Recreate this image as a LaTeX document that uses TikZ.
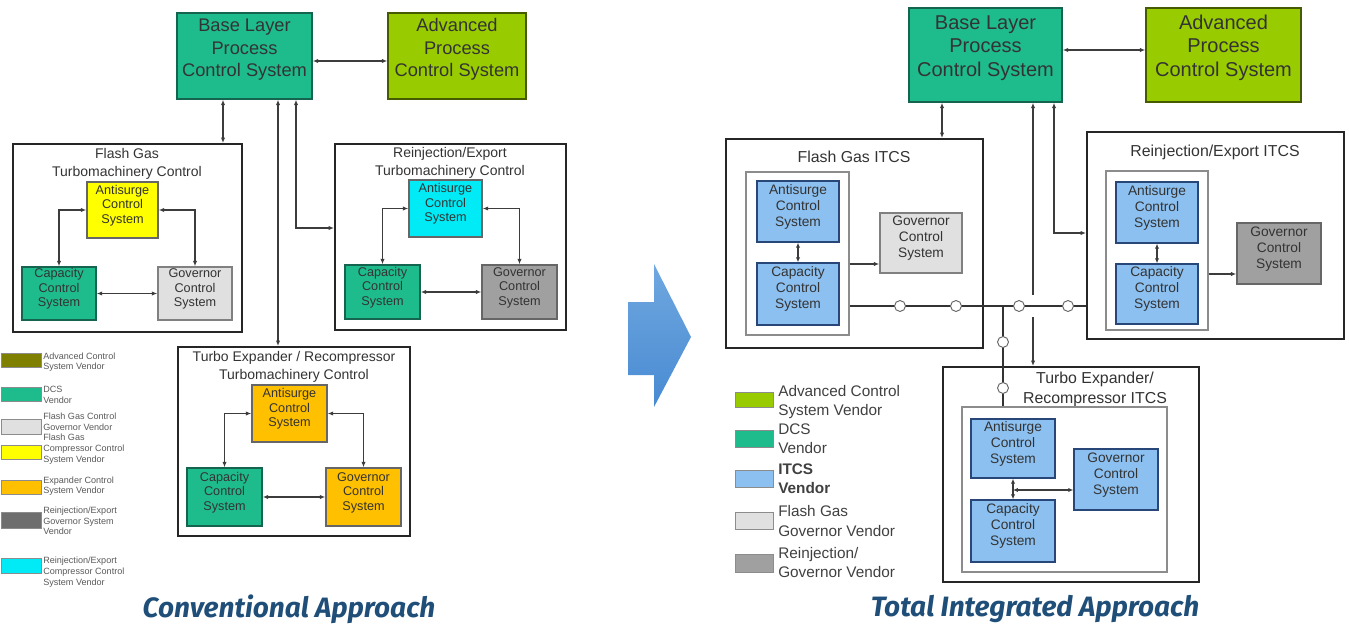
\documentclass[tikz,border=0pt]{standalone}
\usepackage{fontspec}
\setmainfont{Liberation Sans}
\newfontfamily\titlefont{Fira Sans}
\usetikzlibrary{arrows.meta,fit,calc}
\definecolor{teal1}{RGB}{30,188,140}
\definecolor{tealB}{RGB}{20,100,80}
\definecolor{lime1}{RGB}{153,204,0}
\definecolor{limeB}{RGB}{70,90,0}
\definecolor{yel1}{RGB}{255,255,0}
\definecolor{cyan1}{RGB}{0,235,245}
\definecolor{lgray}{RGB}{224,224,224}
\definecolor{dgray}{RGB}{160,160,160}
\definecolor{orng}{RGB}{255,192,0}
\definecolor{olive1}{RGB}{128,128,0}
\definecolor{blue1}{RGB}{140,192,240}
\definecolor{blueB}{RGB}{40,70,120}
\definecolor{legdg}{RGB}{110,110,110}
\definecolor{ttl}{RGB}{31,78,121}
\definecolor{lnc}{RGB}{60,60,60}
\definecolor{arrA}{RGB}{112,168,224}
\definecolor{arrB}{RGB}{72,138,210}
\tikzset{
  cb/.style={draw=#1, line width=1.1pt, inner sep=0pt, align=center, text=black!80},
  tbox/.style={cb=tealB, fill=teal1},
  gbox/.style={cb=limeB, fill=lime1},
  ybox/.style={cb=black!60, fill=yel1},
  cybox/.style={cb=black!60, fill=cyan1},
  lgbox/.style={cb=black!50, fill=lgray},
  dgbox/.style={cb=black!60, fill=dgray},
  obox/.style={cb=black!60, fill=orng},
  bbox/.style={cb=blueB, fill=blue1},
  fbig/.style={font=\fontsize{13.7}{17}\selectfont},
  fbigR/.style={font=\fontsize{15}{17.6}\selectfont},
  fsmL/.style={font=\fontsize{9.5}{11}\selectfont},
  fsmR/.style={font=\fontsize{10.3}{12}\selectfont},
  ftlL/.style={font=\fontsize{10.5}{13.5}\selectfont, align=center, text=black!80},
  ftlR/.style={font=\fontsize{11.9}{15}\selectfont, align=center, text=black!80},
  outer/.style={draw=black!85, line width=1.5pt, inner sep=0pt},
  inner/.style={draw=black!45, line width=0.9pt, inner sep=0pt},
  conn/.style={draw=lnc, line width=0.8pt},
  dbl/.style={conn, {Latex[length=4pt,width=3.2pt]}-{Latex[length=4pt,width=3.2pt]}},
  dbls/.style={conn, {Latex[length=3.6pt,width=3.2pt]}-{Latex[length=3.6pt,width=3.2pt]}},
  sgl/.style={conn, -{Latex[length=4pt,width=3.2pt]}},
  bus/.style={draw=black!80, line width=1pt},
  port/.style={circle, draw=black!60, fill=white, line width=0.7pt, minimum size=8.2pt, inner sep=0pt},
  sw/.style={draw=black!45, line width=0.6pt, inner sep=0pt},
  legL/.style={anchor=west, align=left, font=\fontsize{6.8}{8}\selectfont, text=black!65, inner sep=0pt},
  legR/.style={anchor=west, align=left, font=\fontsize{11.5}{14.3}\selectfont, text=black!75, inner sep=0pt},
  ttlf/.style={font=\titlefont\bfseries\itshape\fontsize{21}{24}\selectfont, text=ttl}
}
\begin{document}
\begin{tikzpicture}[x=0.75pt,y=-0.75pt]
\useasboundingbox (0,0) rectangle (1349,624);

% ================= LEFT: Conventional =================
\node[tbox,fbig,fit={(177,13)(312,99)}] (lbase) {Base Layer\\Process\\Control System};
\node[gbox,fbig,fit={(388,13)(526,99)}] (ladv) {Advanced\\Process\\Control System};

\node[outer,fit={(13,144)(242,332)}] (lfo) {};
\node[ftlL] (lft) at (127,164) {Flash Gas\\Turbomachinery Control};
\node[ybox,fsmL,fit={(87,182)(158,238)}] (lfa) {Antisurge\\Control\\System};
\node[tbox,fsmL,fit={(22,267)(96,320)}] (lfc) {Capacity\\Control\\System};
\node[lgbox,fsmL,fit={(158,267)(232,320)}] (lfg) {Governor\\Control\\System};

\node[outer,fit={(335,144)(566,330)}] (lro) {};
\node[ftlL] (lrt) at (450,162.5) {Reinjection/Export\\Turbomachinery Control};
\node[cybox,fsmL,fit={(409,180)(482,237)}] (lra) {Antisurge\\Control\\System};
\node[tbox,fsmL,fit={(345,265)(420,319)}] (lrc) {Capacity\\Control\\System};
\node[dgbox,fsmL,fit={(482,265)(557,319)}] (lrg) {Governor\\Control\\System};

\node[outer,fit={(178,347)(410,536)}] (lto) {};
\node[ftlL] (ltt) at (294,367) {Turbo Expander / Recompressor\\Turbomachinery Control};
\node[obox,fsmL,fit={(252,385)(327,442)}] (lta) {Antisurge\\Control\\System};
\node[tbox,fsmL,fit={(187,468)(262,526)}] (ltc) {Capacity\\Control\\System};
\node[obox,fsmL,fit={(326,468)(401,526)}] (ltg) {Governor\\Control\\System};

\coordinate (ya) at (0,61);
\coordinate (xa) at (223,0);
\coordinate (xb) at (278,0);
\coordinate (xc) at (296,228);
\draw[dbl] (lbase.east |- ya) -- (ladv.west |- ya);
\draw[dbl] (lbase.south -| xa) -- (lfo.north -| xa);
\draw[dbl] (lbase.south -| xb) -- (lto.north -| xb);
\draw[dbl] (lbase.south -| xc) -- (xc) -- (lro.west |- xc);

\draw[dbl] (lfa.west) -| (lfc.north);
\draw[dbl] (lfa.east) -| (lfg.north);
\draw[dbl] (lfc) -- (lfg);
\draw[dbl] (lra.west) -| (lrc.north);
\draw[dbl] (lra.east) -| (lrg.north);
\draw[dbl] (lrc) -- (lrg);
\draw[dbl] (lta.west) -| (ltc.north);
\draw[dbl] (lta.east) -| (ltg.north);
\draw[dbl] (ltc) -- (ltg);

% left legend
\node[sw,fill=olive1,fit={(1,353)(41,367)}] (ls1) {};
\node[legL] (lt1) at (43,362) {Advanced Control\\System Vendor};
\node[sw,fill=teal1,fit={(1,387)(41,401)}] (ls2) {};
\node[legL] (lt2) at (43,395) {DCS\\Vendor};
\node[sw,fill=lgray,fit={(1,419)(41,434)}] (ls3) {};
\node[legL] (lt3) at (43,422) {Flash Gas Control\\Governor Vendor};
\node[sw,fill=yel1,fit={(1,445)(41,459)}] (ls4) {};
\node[legL] (lt4) at (43,449) {Flash Gas\\Compressor Control\\System Vendor};
\node[sw,fill=orng,fit={(1,480)(41,494)}] (ls5) {};
\node[legL] (lt5) at (43,486) {Expander Control\\System Vendor};
\node[sw,fill=legdg,fit={(1,512)(41,528)}] (ls6) {};
\node[legL] (lt6) at (43,521) {Reinjection/Export\\Governor System\\Vendor};
\node[sw,fill=cyan1,fit={(1,558)(41,573)}] (ls7) {};
\node[legL] (lt7) at (43,572) {Reinjection/Export\\Compressor Control\\System Vendor};

\node[ttlf] (cap1) at (289,609) {Conventional Approach};

% ================= big arrow =================
\shade[top color=arrA, bottom color=arrB] (628,302) -- (654,302) -- (654,264) -- (691,337) -- (654,407) -- (654,375) -- (628,375) -- cycle;

% ================= RIGHT: Total Integrated =================
\node[tbox,fbigR,fit={(909,8)(1062,102)}] (rbase) {Base Layer\\Process\\Control System};
\node[gbox,fbigR,fit={(1146,8)(1301,102)}] (radv) {Advanced\\Process\\Control System};

\node[outer,fit={(726,139)(983,348)}] (rfo) {};
\node[ftlR] (rft) at (854,157) {Flash Gas ITCS};
\node[inner,fit={(746,172)(849,335)}] (rfi) {};
\node[bbox,fsmR,fit={(757,181)(839,242)}] (rfa) {Antisurge\\Control\\System};
\node[bbox,fsmR,fit={(757,263)(839,325)}] (rfc) {Capacity\\Control\\System};
\node[lgbox,fsmR,fit={(880,213)(962,273)}] (rfg) {Governor\\Control\\System};

\node[outer,fit={(1087,132)(1344,339)}] (rro) {};
\node[ftlR] (rrt) at (1215,152) {Reinjection/Export ITCS};
\node[inner,fit={(1106,171)(1208,330)}] (rri) {};
\node[bbox,fsmR,fit={(1116,182)(1198,243)}] (rra) {Antisurge\\Control\\System};
\node[bbox,fsmR,fit={(1116,264)(1198,324)}] (rrc) {Capacity\\Control\\System};
\node[dgbox,fsmR,fit={(1237,223)(1321,284)}] (rrg) {Governor\\Control\\System};

\node[outer,fit={(943,367)(1199,582)}] (rto) {};
\node[ftlR] (rtt) at (1095,389) {Turbo Expander/\\Recompressor ITCS};
\node[inner,fit={(962,407)(1167,572)}] (rti) {};
\node[bbox,fsmR,fit={(971,419)(1055,478)}] (rta) {Antisurge\\Control\\System};
\node[bbox,fsmR,fit={(971,500)(1055,562)}] (rtc) {Capacity\\Control\\System};
\node[bbox,fsmR,fit={(1074,449)(1158,510)}] (rtg) {Governor\\Control\\System};

\coordinate (yb) at (0,50);
\coordinate (xd) at (942,0);
\coordinate (xe) at (1054,233);
\coordinate (g1) at (1033,295);
\coordinate (g2) at (1033,317);
\draw[dbl] (rbase.east |- yb) -- (radv.west |- yb);
\draw[dbl] (rbase.south -| xd) -- (rfo.north -| xd);
\draw[conn,{Latex[length=4pt,width=3.2pt]}-] (rbase.south -| g1) -- (g1);
\draw[sgl] (g2) -- (rto.north -| g2);
\draw[dbl] (rbase.south -| xe) -- (xe) -- (rro.west |- xe);

\coordinate (y264) at (0,264);
\coordinate (y274) at (0,274);
\coordinate (tj) at (1013,490);
\draw[dbls] (rfa) -- (rfc);
\draw[sgl] (rfi.east |- y264) -- (rfg.west |- y264);
\draw[dbls] (rra) -- (rrc);
\draw[sgl] (rri.east |- y274) -- (rrg.west |- y274);
\draw[dbls] (rta) -- (rtc);
\draw[dbls] (tj) -- (rtg.west |- tj);

% communication bus
\coordinate (ybus) at (0,306);
\coordinate (bj) at (1003,306);
\draw[bus] (rfi.east |- ybus) -- (rro.west |- ybus);
\draw[bus] (bj) -- (rti.north -| bj);
\node[port] (p1) at (900,306) {};
\node[port] (p2) at (956,306) {};
\node[port] (p3) at (1019,306) {};
\node[port] (p4) at (1068,306) {};
\node[port] (p5) at (1003,342) {};
\node[port] (p6) at (1003,388) {};

% right legend
\node[sw,fill=lime1,fit={(735,392)(773,407)}] (rs1) {};
\node[legR] (rl1) at (778,402) {Advanced Control\\System Vendor};
\node[sw,fill=teal1,fit={(735,430)(773,447)}] (rs2) {};
\node[legR] (rl2) at (778,439) {DCS\\Vendor};
\node[sw,fill=blue1,fit={(735,470)(773,487)}] (rs3) {};
\node[legR,font=\fontsize{11.5}{14.3}\selectfont\bfseries] (rl3) at (778,478.5) {ITCS\\Vendor};
\node[sw,fill=lgray,fit={(735,512)(773,529)}] (rs4) {};
\node[legR] (rl4) at (778,521) {Flash Gas\\Governor Vendor};
\node[sw,fill=dgray,fit={(735,554)(773,572)}] (rs5) {};
\node[legR] (rl5) at (778,562.5) {Reinjection/\\Governor Vendor};

\node[ttlf] (cap2) at (1035,609) {Total Integrated Approach};
\end{tikzpicture}
\end{document}
